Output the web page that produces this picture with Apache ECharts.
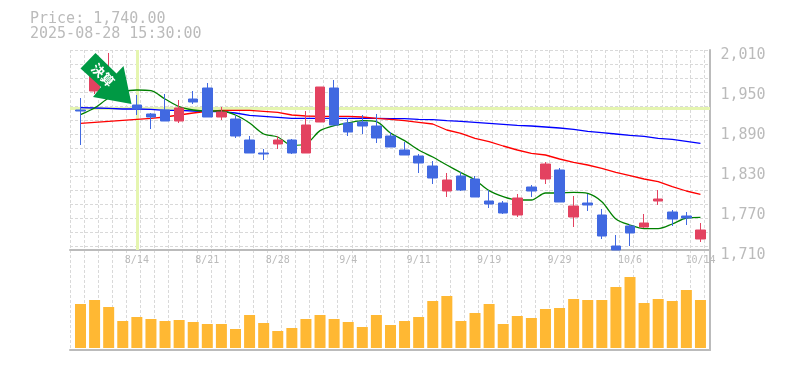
<!DOCTYPE html>
<html>
<head>
<meta charset="utf-8">
<title>chart</title>
<style>
html,body{margin:0;padding:0;background:#fff}
#Chart{width:785px;height:370px}
</style>
<script src="https://cdn.jsdelivr.net/npm/echarts@6/dist/echarts.min.js"></script>
</head>
<body>
<div id="Chart"></div>
<script>
var dates=['8/7','8/8','8/12','8/13','8/14','8/15','8/18','8/19','8/20','8/21','8/22','8/25','8/26','8/27','8/28','8/29','9/1','9/2','9/3','9/4','9/5','9/8','9/9','9/10','9/11','9/12','9/16','9/17','9/18','9/19','9/22','9/24','9/25','9/26','9/29','9/30','10/1','10/2','10/3','10/6','10/7','10/8','10/9','10/10','10/14']
var tickDates=['8/14','8/21','8/28','9/4','9/11','9/19','9/29','10/6','10/14']

// open,close,low,high
var candles=[
	[1920,1918.5,1867.5,1938],[1948.5,1983,1944,1989],[1950,1977,1942.5,2005.5],[1942.5,1935,1933.5,1945.5],[1927.5,1921.5,1912.5,1942.5],
	[1914,1909.5,1891.5,1915.5],[1920,1903.5,1903.5,1944],[1903.5,1923,1900.5,1935],[1936.5,1932,1929,1948.5],[1953,1909.5,1909.5,1960.5],
	[1909.5,1917,1905,1924.5],[1906.5,1881,1878,1911],[1875,1855.5,1855.5,1881],[1855.5,1854,1845,1861.5],[1869,1875,1861.5,1881],
	[1875,1855.5,1854,1876.5],[1855.5,1897.5,1855.5,1918.5],[1902,1954.5,1902,1954.5],[1953,1897.5,1897.5,1965],[1900.5,1887,1881,1908],
	[1902,1896,1884,1912.5],[1896,1878,1870.5,1914],[1881,1864.5,1864.5,1887],[1860,1852.5,1852.5,1872],[1851,1840.5,1825.5,1854],
	[1836,1818,1809,1843.5],[1798.5,1815,1789.5,1825.5],[1821,1800,1798.5,1827],[1816.5,1789.5,1789.5,1821],[1783.5,1779,1773,1800],
	[1780.5,1765.5,1764,1783.5],[1762.5,1788,1759.5,1794],[1804.5,1798.5,1789.5,1807.5],[1816.5,1839,1809,1842],[1830,1782,1782,1833],
	[1759.5,1776,1744.5,1791],[1780.5,1777.5,1768.5,1794],[1762.5,1731,1726.5,1771.5],[1716,1710,1710,1732.5],[1746,1735.5,1716,1749],
	[1744.5,1750.5,1743,1764],[1783.5,1786.5,1777.5,1800],[1767,1756.5,1746,1770],[1761,1758,1747.5,1767],[1726.5,1740,1722,1750.5]
]
var maShort=[1913,1923,1938,1947,1950,1949,1936.5,1925,1920,1918.5,1918.5,1912.5,1900.5,1884,1879.5,1867,1869,1889,1896.5,1900.5,1904,1902.5,1885.5,1874,1860,1849.5,1837.5,1826,1815,1799,1790,1785,1785,1795.5,1795.5,1796.5,1795,1782.5,1756.5,1747.5,1742,1742,1749,1758,1759]
var maMiddle=[1900,1901.5,1903,1904.5,1906,1907.5,1909.5,1912.5,1915.5,1918,1919.5,1919.5,1919.5,1918,1916.5,1912.5,1911,1910.5,1910.5,1910.5,1909.5,1907.5,1906,1904,1901.5,1899,1890,1885,1877.5,1872.5,1866,1860,1855,1852.5,1846.5,1841.5,1837.5,1832.5,1826.5,1821.5,1816.5,1812.5,1805,1798.5,1793.5]
var maLong=[1923.5,1923,1922.5,1921.5,1921.5,1921,1919.5,1919.5,1918.5,1917.5,1917.5,1915.5,1912,1910.5,1909,1907.5,1907.5,1907.5,1907.5,1907.5,1907.5,1907.5,1907,1907,1906,1905.5,1904,1903,1901.5,1900,1898.5,1897,1896,1894.5,1893,1891,1888,1886,1884,1882,1880.5,1877.5,1876,1873,1870]
var volumes=[44,48,41,27,31,29,27,28,26,24,24,19,33,25,17,20,29,33,29,26,21,33,23,27,31,47,52,27,35,44,24,32,30,39,40,49,48,48,61,71,45,49,47,58,48]

var crossDate='8/14'
var crossPrice=1922.25
var priceLabel='Price: 1,740.00'
var timeLabel='2025-08-28 15:30:00'

var textColor='#bbbbbb'
var monoFont='"DejaVu Sans Mono",monospace'

//图表
function drawChar(){
	var myChart=echarts.init(document.getElementById('Chart'),null,{renderer:'canvas'})
	var gridLine={show:true,lineStyle:{color:'#d9d9d9',width:1,type:[3,2]}}
	var frameLine={show:true,onZero:false,lineStyle:{color:'#bbbbbb',width:2}}
	var crossLine={color:'#e5f5b0',width:3,type:'solid',opacity:1}
	var option={
		animation:false,
		backgroundColor:'#ffffff',
		title:{
			text:priceLabel+'\n'+timeLabel,
			left:30,
			top:12,
			padding:0,
			textStyle:{color:textColor,fontFamily:monoFont,fontWeight:'normal',fontSize:15,lineHeight:15}
		},
		grid:[
			{left:70,width:640,top:50,height:300},
			{left:70,width:640,top:50,height:200},
			{left:73.45,width:634.05,top:50,height:200},
			{left:73.45,width:634.05,top:254,height:94}
		],
		xAxis:[
			{gridIndex:0,type:'value',min:0,max:640,interval:14.09,splitLine:gridLine,axisLine:frameLine,axisTick:{show:false},axisLabel:{show:false}},
			{gridIndex:1,type:'value',min:0,max:640,position:'bottom',splitLine:{show:false},axisLine:frameLine,axisTick:{show:false},axisLabel:{show:false}},
			{
				gridIndex:2,
				type:'category',
				data:dates,
				axisLine:{show:false},
				axisTick:{show:false},
				splitLine:{show:false},
				axisLabel:{
					color:textColor,
					fontFamily:monoFont,
					fontSize:10,
					margin:5,
					hideOverlap:false,
					interval:function(i,v){
						return tickDates.indexOf(v)>-1
					}
				}
			},
			{gridIndex:3,type:'category',data:dates,show:false}
		],
		yAxis:[
			{gridIndex:0,type:'value',min:0,max:300,position:'right',splitLine:{show:false},axisLine:frameLine,axisTick:{show:false},axisLabel:{show:false}},
			{gridIndex:1,type:'value',inverse:true,min:0,max:200,interval:14,splitLine:gridLine,axisLine:{show:false},axisTick:{show:false},axisLabel:{show:false}},
			{gridIndex:1,type:'value',min:1710,max:2010,show:false},
			{
				gridIndex:2,
				type:'value',
				min:1710,
				max:2010,
				interval:60,
				position:'right',
				scale:true,
				splitLine:{show:false},
				axisLine:{show:false},
				axisTick:{show:false},
				axisLabel:{
					color:textColor,
					fontFamily:monoFont,
					fontSize:15,
					margin:13,
					verticalAlign:'top',
					padding:[-2,0,0,0],
					formatter:function(v){
						return v.toLocaleString('en-US')
					}
				}
			},
			{gridIndex:3,type:'value',min:0,max:94,show:false}
		],
		series:[
			{
				name:'cross_h',
				type:'line',
				xAxisIndex:1,
				yAxisIndex:2,
				data:[],
				z:1,
				markLine:{silent:true,z:1,symbol:'none',label:{show:false},lineStyle:crossLine,data:[{yAxis:crossPrice}]}
			},
			{
				name:'cross_v',
				type:'line',
				xAxisIndex:2,
				yAxisIndex:3,
				data:[],
				z:1,
				markLine:{silent:true,z:1,symbol:'none',label:{show:false},lineStyle:crossLine,data:[{xAxis:crossDate}]}
			},
			{name:'long',type:'line',xAxisIndex:2,yAxisIndex:3,data:maLong,showSymbol:false,z:2,lineStyle:{color:'#0000ff',width:1.3}},
			{name:'middle',type:'line',xAxisIndex:2,yAxisIndex:3,data:maMiddle,showSymbol:false,z:2,lineStyle:{color:'#ff0000',width:1.3}},
			{name:'short',type:'line',xAxisIndex:2,yAxisIndex:3,data:maShort,showSymbol:false,smooth:0.3,z:2,lineStyle:{color:'#008000',width:1.3}},
			{
				name:'price',
				type:'candlestick',
				xAxisIndex:2,
				yAxisIndex:3,
				data:candles,
				barWidth:10,
				clip:true,
				z:3,
				itemStyle:{color:'#e34260',color0:'#4169e1',borderColor:'#e34260',borderColor0:'#4169e1',borderWidth:1}
			},
			{
				name:'volume',
				type:'bar',
				xAxisIndex:3,
				yAxisIndex:4,
				data:volumes,
				barWidth:11,
				z:3,
				itemStyle:{color:'#ffb833'}
			}
		],
		graphic:[
			{
				type:'polygon',
				z:100,
				shape:{points:[[95.5,53],[116.5,73.5],[123.5,66],[131.5,104],[93,97],[101,87],[80.5,68.5]]},
				style:{fill:'#009944'}
			},
			{
				type:'text',
				z:101,
				x:103,
				y:75,
				rotation:-Math.PI/4,
				style:{text:'決算',fill:'#ffffff',font:'bold 13px "Noto Sans CJK JP"',align:'center',verticalAlign:'middle'}
			}
		]
	}
	myChart.setOption(option)
}

drawChar()
</script>
</body>
</html>
